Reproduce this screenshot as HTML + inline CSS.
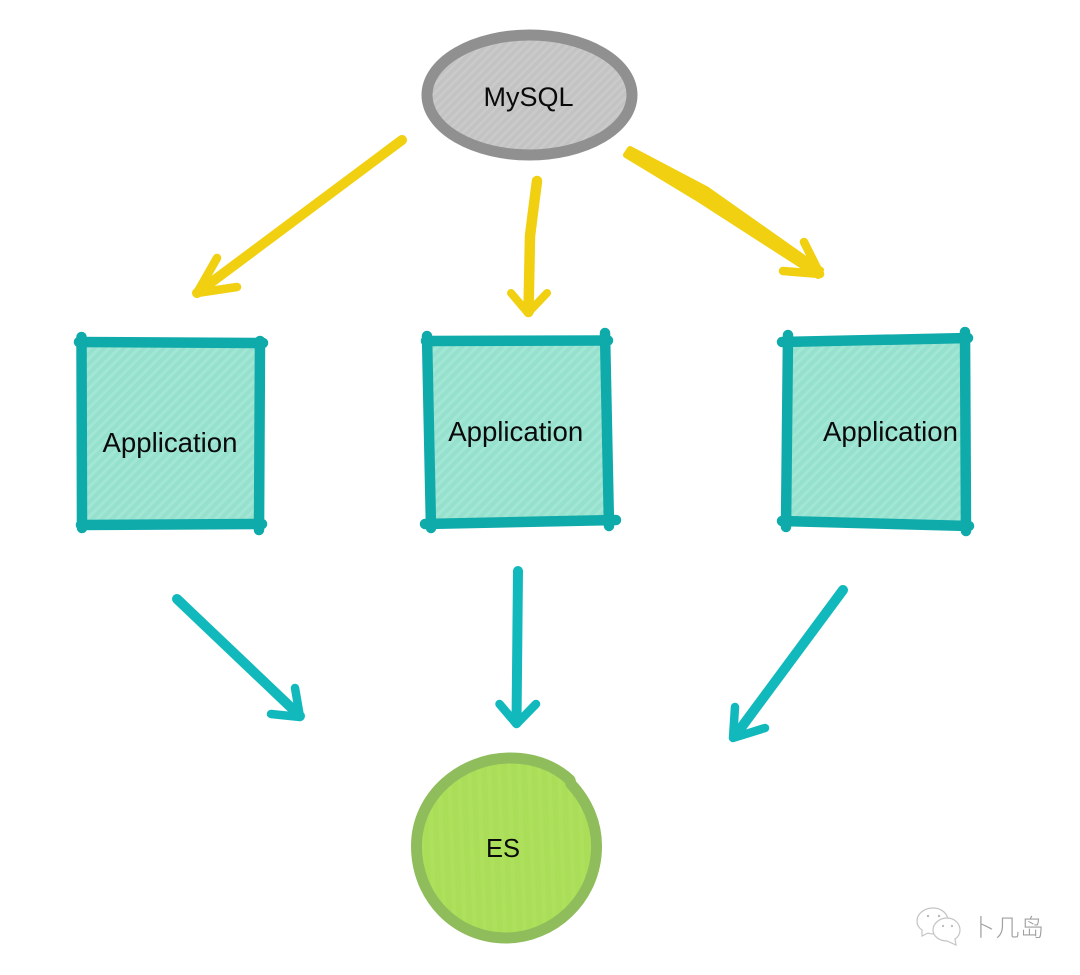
<!DOCTYPE html>
<html><head><meta charset="utf-8">
<style>html,body{margin:0;padding:0;background:#fff}svg{display:block}
text{font-family:"Liberation Sans",Arial,sans-serif;fill:#0a0a0a}</style></head>
<body>
<svg width="1080" height="975" viewBox="0 0 1080 975" xmlns="http://www.w3.org/2000/svg">
<defs>
<pattern id="g" width="6" height="6" patternUnits="userSpaceOnUse" patternTransform="rotate(45)"><rect width="6" height="6" fill="#c3c3c3"/><rect width="2.5" height="6" fill="#cacaca"/></pattern>
<pattern id="t" width="7" height="7" patternUnits="userSpaceOnUse" patternTransform="rotate(45)"><rect width="7" height="7" fill="#96e1cd"/><rect width="3" height="7" fill="#a2e6d5"/></pattern>
<pattern id="l" width="10" height="10" patternUnits="userSpaceOnUse" patternTransform="rotate(-2)"><rect width="10" height="10" fill="#aade58"/><rect width="4" height="10" fill="#aee05e"/></pattern>
</defs>

<!-- MySQL -->
<ellipse cx="529.5" cy="95" rx="102.5" ry="60" fill="url(#g)" stroke="#909090" stroke-width="11"/>
<text x="528.5" y="106" font-size="27" text-anchor="middle">MySQL</text>

<!-- Yellow arrows -->
<g fill="none" stroke="#f0d010" stroke-linecap="round" stroke-linejoin="round">
<path d="M402 140 L197 293" stroke-width="10"/>
<path d="M217 258 L197 293 L237 287" stroke-width="8.5"/>
<path d="M537 181 L533 212 L530 236 L528.5 312" stroke-width="10.5"/>
<path d="M511 293 L528 313 L547 293" stroke-width="8"/>
<path d="M804 242 L820 274 L783 271" stroke-width="8.5"/>
</g>
<path d="M630 149 L706 189 L821 270 L818 276 L697 198 L626 155 Z" fill="#f0d010" stroke="#f0d010" stroke-width="6" stroke-linejoin="round"/>

<!-- Application boxes -->
<g stroke="#0faaaa" stroke-width="10.5" stroke-linecap="round">
<polygon points="82,342 260,343 259,524 82,525" fill="url(#t)" stroke="none"/>
<path d="M79 342 L263 343"/><path d="M260 341 L259 530"/><path d="M81 525 L262 524"/><path d="M81.5 337 L82 528"/>
<polygon points="427,341 606,340 609,520 431,523" fill="url(#t)" stroke="none"/>
<path d="M426 341 L608 340.5"/><path d="M605 333 L609 526"/><path d="M425 524 L616 520"/><path d="M427 336 L431 528"/>
<polygon points="788,342 965,338 966,525 786,521" fill="url(#t)" stroke="none"/>
<path d="M782 342 L968 338"/><path d="M965 332 L966 531"/><path d="M782 521 L969 526"/><path d="M788 335 L786 527"/>
</g>
<text x="170" y="452" font-size="27.6" text-anchor="middle">Application</text>
<text x="515.7" y="441" font-size="27.6" text-anchor="middle">Application</text>
<text x="890.5" y="441" font-size="27.6" text-anchor="middle">Application</text>

<!-- Teal arrows -->
<g fill="none" stroke="#12b9bc" stroke-width="10" stroke-linecap="round" stroke-linejoin="round">
<path d="M177 599 L300 716"/><path d="M295 688 L300 717 L271 714" stroke-width="8.5"/>
<path d="M518 571 L516.5 723"/><path d="M499.5 704 L516.5 724 L536 704" stroke-width="8.5"/>
<path d="M843 590 L735 736"/><path d="M735 707 L733 738 L765 728" stroke-width="8.5"/>
</g>

<!-- ES -->
<path d="M416.5 846 C416.5 795 462 758 510 758 C536 758 556 767 570 780 L571 784 C588 802 596.5 824 596.5 846 C596.5 900 552 938 506 938 C456 938 416.5 898 416.5 846 Z" fill="url(#l)" stroke="#8fbd5c" stroke-width="11" stroke-linejoin="round"/>
<text x="503" y="857" font-size="25.5" text-anchor="middle">ES</text>

<!-- Watermark -->
<g fill="#fff" stroke="#c4c4c4" stroke-width="1.2">
<path d="M933 908 C924 908 917 914 917 921 C917 925 919 928 922 930 L922 936 L928 933 C930 934 932 934 934 934 C943 934 948 927 948 921 C948 914 942 908 933 908 Z"/>
<path d="M947 918 C939 918 933 924 933 930 C933 936 939 941 947 941 L956 945 L955 939 C958 937 960 934 960 930 C960 924 955 918 947 918 Z"/>
</g>
<g fill="#b8b8b8"><circle cx="928" cy="916" r="1.2"/><circle cx="939" cy="916" r="1.2"/><circle cx="943" cy="926" r="1.1"/><circle cx="952" cy="926" r="1.1"/></g>
<text x="971" y="936" font-size="24" letter-spacing="0.5" style="font-family:'Noto Sans CJK SC',sans-serif;fill:#a0a0a0;font-weight:300">卜几岛</text>
</svg>
</body></html>
